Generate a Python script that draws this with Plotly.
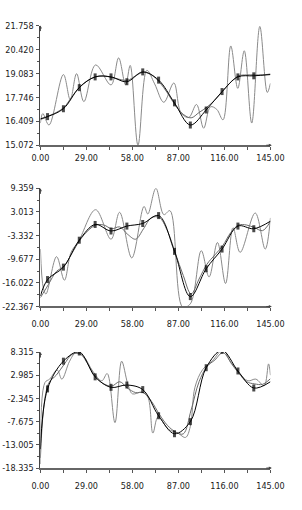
import plotly.graph_objects as go

# ---------------- data ----------------
x_ticks = [0, 29, 58, 87, 116, 145]
x_ticktext = ["0.00", "29.00", "58.00", "87.00", "116.00", "145.00"]

y1_ticks = [15.072, 16.409, 17.746, 19.083, 20.420, 21.758]
y2_ticks = [-22.367, -16.022, -9.677, -3.332, 3.013, 9.359]
y3_ticks = [-18.335, -13.005, -7.675, -2.345, 2.985, 8.315]

marker_x = [0, 4.5, 14.5, 24.5, 34.5, 44.5, 54.5, 64.5, 74.5, 84.5, 94.5,
            104.5, 114.5, 124.5, 134.5, 145]
smooth_x = [0, 5, 10, 15, 20, 25, 30, 35, 40, 45, 50, 55, 60, 65, 70, 75,
            80, 85, 90, 95, 100, 105, 110, 115, 120, 125, 130, 135, 140, 145]

# panel 1
w1_x = [0, 1.5, 5.4, 14.5, 18.8, 22.8, 27.4, 34.8, 44.5, 49.3, 53.7, 56.6,
        61.5, 67.1, 72, 77.8, 84.1, 88.6, 93.5, 98.4, 102.9, 107.2, 111.2,
        115.1, 120.0, 124.4, 128.5, 133.2, 138.3, 143.0, 145]
w1_y = [16.31, 16.84, 16.2, 19.02, 17.62, 19.07, 17.51, 19.56, 18.44, 19.95,
        18.44, 19.53, 15.07, 19.26, 18.5, 17.47, 18.55, 16.89, 16.62, 17.35,
        16.02, 17.22, 17.07, 16.49, 20.62, 18.25, 20.35, 16.31, 21.71, 18.02,
        18.53]
s1_y = [16.5, 16.7, 16.9, 17.2, 17.8, 18.35, 18.7, 18.9, 18.95, 18.85, 18.75,
        18.7, 18.95, 19.15, 19.0, 18.6, 18.0, 17.3, 16.8, 16.6, 16.9, 17.2,
        17.6, 18.1, 18.6, 18.95, 19.0, 19.0, 19.0, 19.05]
b1_y = [16.55, 16.67, 17.11, 18.29, 18.89, 18.89, 18.62, 19.17, 18.71, 17.44,
        16.20, 17.04, 18.07, 18.89, 18.95, 19.02]

# panel 2
w2_x = [0, 1.9, 3.5, 10.2, 15.1, 19.3, 24.2, 34.8, 44.5, 49.9, 57.6, 65.3,
        67.7, 72.8, 77.8, 81.7, 89.6, 94.5, 101.4, 106.3, 111.6, 116.7,
        121.4, 125.9, 135.4, 141.7, 145]
w2_y = [-6.95, -17.52, -19.02, -8.98, -15.32, -7.83, -4.75, 3.62, -4.31, 2.92,
        -9.33, 4.50, 2.48, 9.35, 2.30, 3.36, -22.5, -21.66, -7.39, -14.44,
        -5.19, -16.20, -1.22, -7.83, 2.74, -6.95, 1.42]
s2_y = [-20.0, -16.5, -13.0, -11.5, -8.0, -4.5, -2.0, -0.5, -0.5, -1.5, -1.0,
        -3.0, -4.3, -1.5, 1.5, 1.5, -2.0, -8.0, -14.0, -19.0, -15.0, -11.0,
        -8.5, -6.0, -2.5, -0.5, -0.5, -1.2, -2.0, 0.5]
b2_y = [-19.55, -15.14, -11.80, -4.57, -0.34, -2.10, -0.78, -0.08, 2.04,
        -7.57, -19.72, -12.24, -6.95, -0.78, -1.49, 0.54]

# panel 3
w3_x = [0, 2.9, 5.8, 10.6, 13.5, 18.4, 22.2, 27.1, 32.9, 38.7, 42.1, 47.0,
        51.2, 55.1, 58.0, 63.8, 67.7, 70.9, 74.2, 80.7, 86.6, 91.5, 94.5,
        97.4, 102.3, 108.2, 115.1, 120.0, 124.9, 130.8, 135.8, 141.0, 143.8,
        145]
w3_y = [-17.43, 1.34, 2.09, 4.2, 2.09, 6.22, 8.1, 7.35, 3.97, 1.72, 3.37,
        -7.9, 6.22, 0.97, -1.29, -0.91, -2.04, -10.3, -6.55, -9.4, -10.3,
        -11.3, -8.8, 0.21, 4.3, 6.2, 8.85, 5.84, 3.6, 1.7, 2.1, 0.6, 5.6,
        3.0]
s3_y = [-16.0, 1.0, 3.0, 5.5, 7.8, 7.9, 5.5, 2.5, 1.0, 0.5, 1.5, 0.0, -1.0,
        -1.0, -3.0, -6.0, -8.5, -10.0, -10.5, -5.0, 1.5, 5.0, 6.5, 8.2, 6.0,
        3.5, 1.5, 1.0, 0.9, 2.2]
b3_y = [-14.0, -0.16, 6.22, 8.33, 2.62, 0.21, 0.74, -0.31, -6.32, -10.45,
        -7.67, 4.72, 8.70, 3.97, 0.06, 1.5]

panels = [
    (w1_x, w1_y, s1_y, b1_y, y1_ticks),
    (w2_x, w2_y, s2_y, b2_y, y2_ticks),
    (w3_x, w3_y, s3_y, b3_y, y3_ticks),
]

# ---------------- layout geometry (pixels) ----------------
W, H = 302, 510
x_px = (34, 283)
y_px = [(21, 143), (187, 307.5), (354, 472.3)]
label_standoff = [0, 5, 5]

FONT = dict(family="Liberation Sans Narrow, Arial Narrow, DejaVu Sans Condensed, sans-serif",
            size=9, color="#1a1a1a")
AXIS_COLOR = "#555555"

fig = go.Figure()
marker_sizes = [0] + [5] * (len(marker_x) - 2) + [0]

for i, (wx, wy, sy, by, yt) in enumerate(panels):
    n = "" if i == 0 else str(i + 1)
    xa, ya = "x" + n, "y" + n
    fig.add_trace(go.Scatter(x=wx, y=wy, mode="lines", xaxis=xa, yaxis=ya,
                             line=dict(color="#8a8a8a", width=1, shape="spline",
                                       smoothing=1.0), hoverinfo="skip"))
    fig.add_trace(go.Scatter(x=smooth_x, y=sy, mode="lines", xaxis=xa, yaxis=ya,
                             line=dict(color="#6a6a6a", width=1, shape="spline",
                                       smoothing=1.0), hoverinfo="skip"))
    fig.add_trace(go.Scatter(x=marker_x, y=by, mode="lines+markers", xaxis=xa,
                             yaxis=ya,
                             line=dict(color="#000000", width=1, shape="spline",
                                       smoothing=1.0),
                             marker=dict(symbol="line-ns", size=marker_sizes,
                                         color="#000000",
                                         line=dict(width=3, color="#000000")),
                             hoverinfo="skip"))

    top, bot = y_px[i]
    xdom = [x_px[0] / W, x_px[1] / W]
    ydom = [1 - bot / H, 1 - top / H]
    ystep = (yt[1] - yt[0])
    yminor = [yt[k] + ystep / 2 for k in range(len(yt) - 1)]
    xminor = [x_ticks[k] + (x_ticks[1] - x_ticks[0]) / 2 for k in range(len(x_ticks) - 1)]

    fig.update_layout(**{
        ("xaxis" + n): dict(
            domain=xdom, range=[0, 145], anchor=ya,
            tickmode="array", tickvals=x_ticks, ticktext=x_ticktext,
            ticks="outside", ticklen=3, tickcolor=AXIS_COLOR, tickwidth=1,
            minor=dict(tickvals=xminor, ticks="outside", ticklen=3,
                       tickcolor=AXIS_COLOR, showgrid=False),
            showline=True, linecolor="#666666", linewidth=2,
            showgrid=False, zeroline=False, tickfont=FONT,
            ticklabelstandoff=label_standoff[i], fixedrange=True),
        ("yaxis" + n): dict(
            domain=ydom, range=[yt[0], yt[-1]], anchor=xa,
            tickmode="array", tickvals=yt, ticktext=["%.3f" % v for v in yt],
            ticks="outside", ticklen=3, tickcolor=AXIS_COLOR, tickwidth=1,
            minor=dict(tickvals=yminor, ticks="outside", ticklen=2,
                       tickcolor=AXIS_COLOR, showgrid=False),
            showline=True, linecolor="#444444", linewidth=1,
            showgrid=False, zeroline=False, tickfont=FONT,
            ticklabelstandoff=1, fixedrange=True),
    })
    # small arrowheads at ends of axes
    fig.add_annotation(x=0, y=1, xref=xa + " domain", yref=ya + " domain",
                       ax=0, ay=7, text="", showarrow=True, arrowhead=2,
                       arrowsize=0.6, arrowwidth=1, arrowcolor="#444444")
    fig.add_annotation(x=1.006, y=0, xref=xa + " domain", yref=ya + " domain",
                       ax=-7, ay=0, text="", showarrow=True, arrowhead=2,
                       arrowsize=0.6, arrowwidth=1, arrowcolor="#444444")

fig.update_layout(
    width=W, height=H, margin=dict(l=0, r=0, t=0, b=0),
    paper_bgcolor="white", plot_bgcolor="white",
    showlegend=False,
)

fig.write_html("out.html", config={"displayModeBar": False})
